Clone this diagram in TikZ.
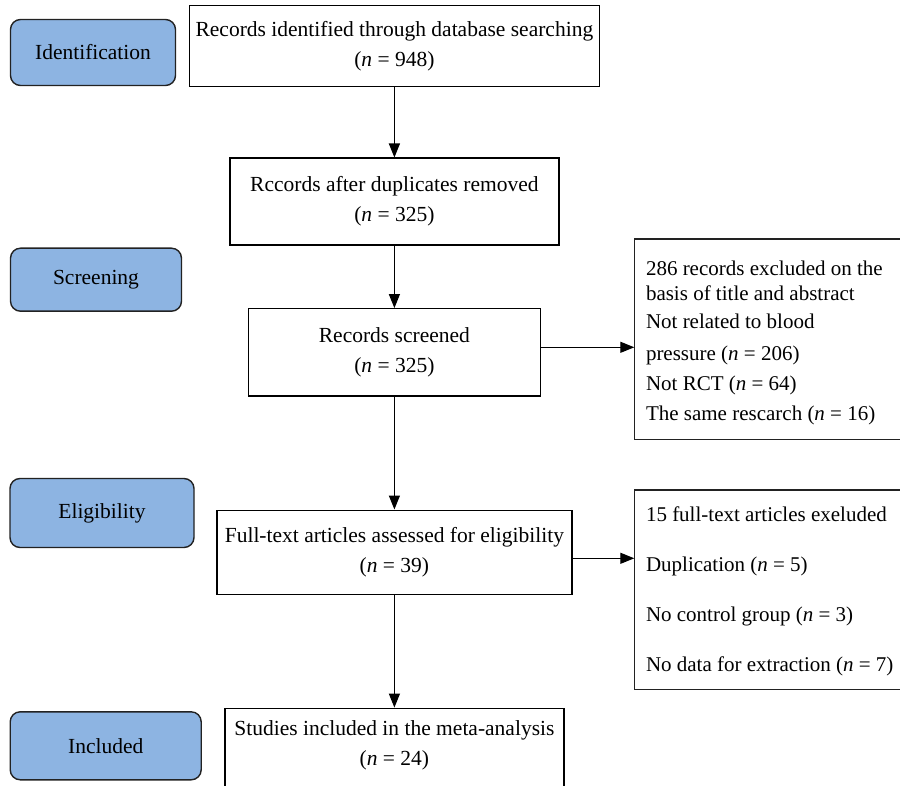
\documentclass[tikz,border=0pt]{standalone}
\usepackage{fontspec}
\setmainfont{Liberation Serif}
\usetikzlibrary{arrows.meta}
\definecolor{stageblue}{HTML}{8DB4E2}
\definecolor{edgegray}{HTML}{222222}
\tikzset{
  stage/.style={draw=edgegray, line width=1.4pt, fill=stageblue, rounded corners=10pt, inner sep=0pt, font=\fontsize{21.5}{24}\selectfont},
  flowbox/.style={draw=black, line width=1.4pt, fill=white, inner sep=0pt, align=center, font=\fontsize{21.5}{30}\selectfont},
  exbox/.style={draw=edgegray, line width=1.4pt, fill=white},
  extext/.style={anchor=base west, inner sep=0pt, font=\fontsize{21}{24}\selectfont},
  arr/.style={line width=1.2pt, -{Triangle[length=14pt,width=11pt]}}
}
\begin{document}
\begin{tikzpicture}[x=1pt,y=-1pt]
\useasboundingbox (0,0) rectangle (900,786);
\begin{scope}
\clip (0,0) rectangle (900,786);
% stage labels
\node[stage, minimum width=165pt, minimum height=66pt] (ident) at (93,52.5) {Identification};
\node[stage, minimum width=171pt, minimum height=63pt] (screen) at (96,279.7) {Screening};
\node[stage, minimum width=184pt, minimum height=69pt] (elig) at (102,513) {Eligibility};
\node[stage, minimum width=191pt, minimum height=68pt] (incl) at (105.7,745.8) {Included};
% main flow
\node[flowbox, minimum width=410pt, minimum height=81pt] (b1) at (394.4,46) {Records identified through database searching\\(\textit{n} = 948)};
\node[flowbox, minimum width=329pt, minimum height=87pt] (b2) at (394.4,201.7) {Rccords after duplicates removed\\(\textit{n} = 325)};
\node[flowbox, minimum width=292pt, minimum height=87pt] (b3) at (394.4,352.3) {Records screened\\(\textit{n} = 325)};
\node[flowbox, minimum width=355pt, minimum height=84pt] (b4) at (394.4,552.2) {Full-text articles assessed for eligibility\\(\textit{n} = 39)};
\node[flowbox, minimum width=339pt, minimum height=100pt, text depth=0pt] (b5) at (394.4,758.3) {};
\node[align=center, inner sep=0pt, font=\fontsize{21.5}{30}\selectfont] (b5t) at (394.4,745) {Studies included in the meta-analysis\\(\textit{n} = 24)};
% exclusion boxes
\draw[exbox] (634.3,239) rectangle (906,439.3);
\coordinate (ex1w) at (634.3,347.3);
\node[extext] (e1a) at (645.8,275.2) {286 records excluded on the};
\node[extext] (e1b) at (645.8,300.8) {basis of title and abstract};
\node[extext] (e1c) at (645.8,328.5) {Not related to blood};
\node[extext] (e1d) at (645.8,360.8) {pressure (\textit{n} = 206)};
\node[extext] (e1e) at (645.8,390.8) {Not RCT (\textit{n} = 64)};
\node[extext] (e1f) at (645.8,420.8) {The same rescarch (\textit{n} = 16)};
\draw[exbox] (634.3,490) rectangle (906,689.3);
\coordinate (ex2w) at (634.3,558.3);
\node[extext] (e2a) at (645.8,521.8) {15 full-text articles exeluded};
\node[extext] (e2b) at (645.8,571.8) {Duplication (\textit{n} = 5)};
\node[extext] (e2c) at (645.8,621.8) {No control group (\textit{n} = 3)};
\node[extext] (e2d) at (645.8,671.8) {No data for extraction (\textit{n} = 7)};
% connectors
\draw[arr] (b1.south) -- (b2.north);
\draw[arr] (b2.south) -- (b3.north);
\draw[arr] (b3.south) -- (b4.north);
\draw[arr] (b4.south) -- (b5.north);
\draw[arr] (b3.east |- ex1w) -- (ex1w);
\draw[arr] (b4.east |- ex2w) -- (ex2w);
\end{scope}
\end{tikzpicture}
\end{document}
